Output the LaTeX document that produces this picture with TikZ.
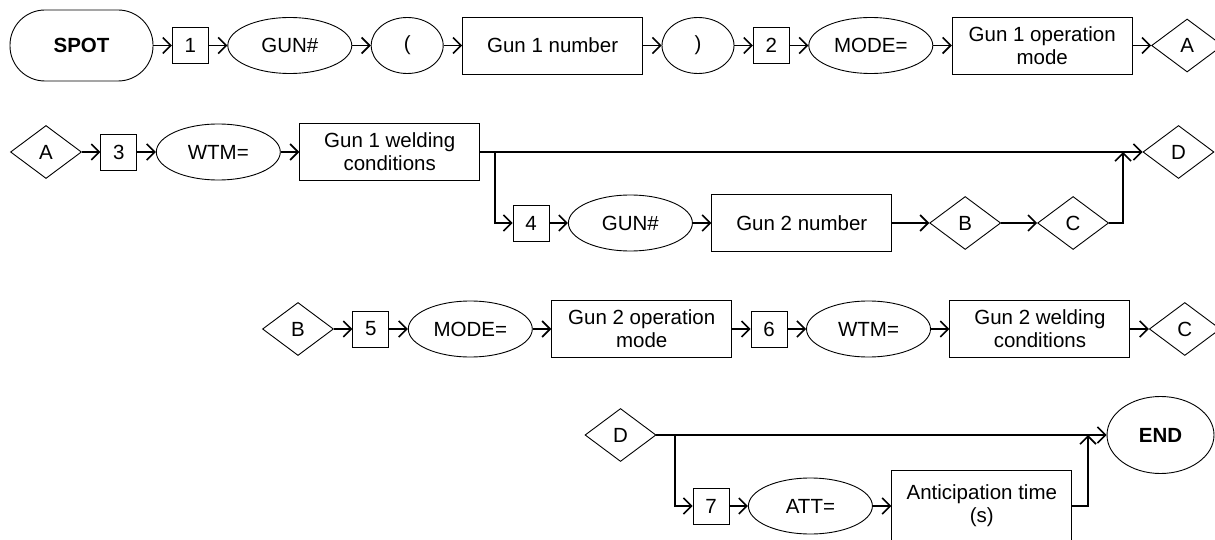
\documentclass[tikz,border=0pt]{standalone}
\usepackage{fontspec}
\setmainfont{Liberation Sans}
\usetikzlibrary{arrows.meta,positioning,shapes.geometric}

\begin{document}
\begin{tikzpicture}[
        x=1pt,y=-1pt,
        node distance=18.5pt,
        every node/.style={font=\fontsize{20.5}{23}\selectfont,inner sep=0pt},
        term/.style={draw,line width=0.9pt,rounded corners=35pt,minimum width=143pt,minimum height=71pt,font=\fontsize{20.5}{23}\selectfont\bfseries},
        stop/.style={draw,line width=0.9pt,ellipse,minimum width=107pt,minimum height=77pt,font=\fontsize{20.5}{23}\selectfont\bfseries},
        num/.style={draw,line width=0.9pt,minimum width=36pt,minimum height=36pt},
        key/.style={draw,line width=0.9pt,ellipse,minimum width=124pt,minimum height=56pt},
        paren/.style={key,minimum width=72pt},
        val/.style={draw,line width=0.9pt,minimum width=180pt,minimum height=57pt,align=center},
        conn/.style={draw,line width=0.9pt,diamond,minimum width=71pt,minimum height=53pt},
        arr/.style={-{Straight Barb[length=8pt,width=16pt]},line width=1.6pt}
      ]
        \useasboundingbox (0,0) rectangle (1215,540);
        % row 1
        \node[term] (spot) at (81.5,45.5) {SPOT};
        \node[num,right=of spot] (n1) {1};
        \node[key,right=of n1] (gun1) {GUN\#};
        \node[paren,right=of gun1] (lp) {(};
        \node[val,right=of lp] (g1num) {Gun 1 number};
        \node[paren,right=of g1num] (rp) {)};
        \node[num,right=of rp] (n2) {2};
        \node[key,right=of n2] (mode1) {MODE=};
        \node[val,right=of mode1] (g1mode) {Gun 1 operation\\mode};
        \node[conn,right=of g1mode] (a1) {A};
        \draw[arr] (spot)--(n1); \draw[arr] (n1)--(gun1);
        \draw[arr] (gun1)--(lp); \draw[arr] (lp)--(g1num);
        \draw[arr] (g1num)--(rp); \draw[arr] (rp)--(n2);
        \draw[arr] (n2)--(mode1); \draw[arr] (mode1)--(g1mode);
        \draw[arr] (g1mode)--(a1);
        % row 2
        \node[conn] (a2) at (46,152) {A};
        \node[num,right=of a2] (n3) {3};
        \node[key,right=of n3] (wtm1) {WTM=};
        \node[val,right=of wtm1] (g1weld) {Gun 1 welding\\conditions};
        \node[conn] (d1) at (1178.5,152) {D};
        \coordinate (br1) at (495,152);
        \coordinate (jd) at (1123,152);
        \node[num] (n4) at (531,223) {4};
        \node[key,right=of n4] (gun2) {GUN\#};
        \node[val,right=of gun2] (g2num) {Gun 2 number};
        \node[conn,right=37pt of g2num] (b1) {B};
        \node[conn,right=36pt of b1] (c1) {C};
        \draw[arr] (a2)--(n3); \draw[arr] (n3)--(wtm1);
        \draw[arr] (wtm1)--(g1weld); \draw[arr] (g1weld)--(d1);
        \draw[arr] (br1) |- (n4); \draw[arr] (n4)--(gun2);
        \draw[arr] (gun2)--(g2num); \draw[arr] (g2num)--(b1);
        \draw[arr] (b1)--(c1); \draw[arr] (c1) -| (jd);
        % row 3
        \node[conn] (b2) at (298,329) {B};
        \node[num,right=of b2] (n5) {5};
        \node[key,right=of n5] (mode2) {MODE=};
        \node[val,right=of mode2] (g2mode) {Gun 2 operation\\mode};
        \node[num,right=of g2mode] (n6) {6};
        \node[key,right=of n6] (wtm2) {WTM=};
        \node[val,right=of wtm2] (g2weld) {Gun 2 welding\\conditions};
        \node[conn,right=of g2weld] (c2) {C};
        \draw[arr] (b2)--(n5); \draw[arr] (n5)--(mode2);
        \draw[arr] (mode2)--(g2mode); \draw[arr] (g2mode)--(n6);
        \draw[arr] (n6)--(wtm2); \draw[arr] (wtm2)--(g2weld);
        \draw[arr] (g2weld)--(c2);
        % row 4
        \node[conn] (d2) at (620.5,435) {D};
        \node[stop] (end) at (1160.5,435) {END};
        \coordinate (br2) at (675,435);
        \coordinate (je) at (1088,435);
        \node[num] (n7) at (711,506) {7};
        \node[key,right=of n7] (att) {ATT=};
        \node[val,right=of att,minimum height=72pt] (antime) {Anticipation time\\(s)};
        \draw[arr] (d2)--(end);
        \draw[arr] (br2) |- (n7); \draw[arr] (n7)--(att);
        \draw[arr] (att)--(antime); \draw[arr] (antime) -| (je);
      \end{tikzpicture}
\end{document}
